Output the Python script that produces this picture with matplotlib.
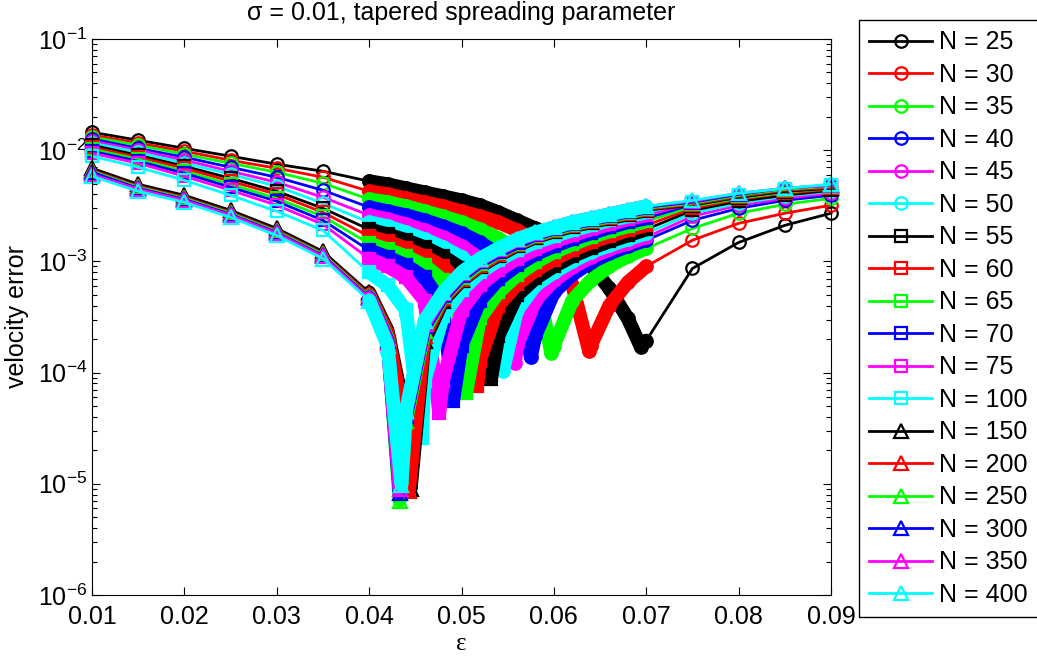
import matplotlib
matplotlib.use('Agg')
import matplotlib.pyplot as plt

plt.rcParams['font.family'] = ['Liberation Sans', 'DejaVu Sans']
plt.rcParams['mathtext.fontset'] = 'custom'
plt.rcParams['mathtext.rm'] = 'Liberation Sans'
plt.rcParams['mathtext.it'] = 'Liberation Sans:italic'
plt.rcParams['mathtext.bf'] = 'Liberation Sans:bold'

# eps grid: coarse part, dense part (0.040..0.070), tail
eps_coarse = [0.010, 0.015, 0.020, 0.025, 0.030, 0.035]
eps_dense = [0.040, 0.042, 0.044, 0.046, 0.048, 0.050, 0.052, 0.054,
             0.056, 0.058, 0.060, 0.062, 0.064, 0.066, 0.068, 0.070]
eps_tail = [0.075, 0.080, 0.085, 0.090]

N_values = [25, 30, 35, 40, 45, 50, 55, 60, 65, 70, 75, 100, 150, 200, 250, 300, 350, 400]

err_n25 = [1.45e-2, 1.23e-2, 1.04e-2, 8.83e-3, 7.48e-3, 6.47e-3,
           5.26e-3, 4.94e-3, 4.54e-3, 4.18e-3, 3.85e-3, 3.54e-3, 3.20e-3, 2.76e-3,
           2.34e-3, 1.98e-3, 1.65e-3, 1.28e-3, 9.20e-4, 5.71e-4, 3.07e-4, 1.94e-4,
           8.64e-4, 1.48e-3, 2.11e-3, 2.71e-3]
err_n30 = [1.37e-2, 1.16e-2, 9.79e-3, 8.12e-3, 6.88e-3, 5.71e-3,
           4.27e-3, 4.01e-3, 3.69e-3, 3.40e-3, 3.13e-3, 2.82e-3, 2.54e-3, 2.25e-3,
           1.90e-3, 1.55e-3, 1.13e-3, 6.08e-4, 1.75e-4, 4.01e-4, 6.47e-4, 9.01e-4,
           1.55e-3, 2.20e-3, 2.71e-3, 3.20e-3]
err_n35 = [1.31e-2, 1.11e-2, 9.20e-3, 7.63e-3, 6.33e-3, 5.04e-3,
           3.62e-3, 3.40e-3, 3.13e-3, 2.82e-3, 2.54e-3, 2.25e-3, 1.94e-3, 1.61e-3,
           1.26e-3, 7.96e-4, 1.75e-4, 4.45e-4, 6.74e-4, 9.01e-4, 1.11e-3, 1.31e-3,
           1.98e-3, 2.71e-3, 3.26e-3, 3.69e-3]
err_n40 = [1.26e-2, 1.04e-2, 8.64e-3, 7.03e-3, 5.71e-3, 4.36e-3,
           3.07e-3, 2.82e-3, 2.60e-3, 2.34e-3, 2.07e-3, 1.79e-3, 1.48e-3, 1.16e-3,
           7.03e-4, 2.15e-4, 5.26e-4, 7.63e-4, 9.79e-4, 1.18e-3, 1.37e-3, 1.55e-3,
           2.34e-3, 3.00e-3, 3.54e-3, 3.93e-3]
err_n45 = [1.21e-2, 1.00e-2, 8.12e-3, 6.47e-3, 5.15e-3, 3.77e-3,
           2.60e-3, 2.39e-3, 2.15e-3, 1.90e-3, 1.65e-3, 1.37e-3, 1.06e-3, 7.03e-4,
           1.75e-4, 4.45e-4, 6.74e-4, 8.83e-4, 1.09e-3, 1.28e-3, 1.45e-3, 1.65e-3,
           2.54e-3, 3.20e-3, 3.69e-3, 4.10e-3]
err_n50 = [1.16e-2, 9.59e-3, 7.63e-3, 6.08e-3, 4.74e-3, 3.33e-3,
           2.25e-3, 2.07e-3, 1.82e-3, 1.58e-3, 1.34e-3, 1.09e-3, 7.96e-4, 3.26e-4,
           3.62e-4, 6.08e-4, 7.96e-4, 1.00e-3, 1.21e-3, 1.39e-3, 1.58e-3, 1.79e-3,
           2.71e-3, 3.33e-3, 3.85e-3, 4.27e-3]
err_n55 = [1.11e-2, 9.01e-3, 7.17e-3, 5.59e-3, 4.27e-3, 3.00e-3,
           1.94e-3, 1.75e-3, 1.55e-3, 1.34e-3, 1.11e-3, 8.64e-4, 4.94e-4, 2.15e-4,
           4.94e-4, 7.03e-4, 9.01e-4, 1.11e-3, 1.31e-3, 1.51e-3, 1.71e-3, 1.94e-3,
           2.88e-3, 3.47e-3, 3.93e-3, 4.36e-3]
err_n60 = [1.06e-2, 8.64e-3, 6.88e-3, 5.26e-3, 4.01e-3, 2.76e-3,
           1.68e-3, 1.51e-3, 1.31e-3, 1.11e-3, 9.01e-4, 6.08e-4, 1.28e-4, 4.01e-4,
           6.20e-4, 8.29e-4, 1.04e-3, 1.26e-3, 1.48e-3, 1.68e-3, 1.90e-3, 2.11e-3,
           3.00e-3, 3.62e-3, 4.10e-3, 4.45e-3]
err_n65 = [1.02e-2, 8.29e-3, 6.47e-3, 4.94e-3, 3.69e-3, 2.54e-3,
           1.45e-3, 1.28e-3, 1.11e-3, 9.20e-4, 6.74e-4, 2.94e-4, 3.07e-4, 5.26e-4,
           7.48e-4, 9.79e-4, 1.21e-3, 1.42e-3, 1.65e-3, 1.86e-3, 2.07e-3, 2.29e-3,
           3.13e-3, 3.69e-3, 4.18e-3, 4.54e-3]
err_n70 = [9.79e-3, 7.96e-3, 6.20e-3, 4.64e-3, 3.47e-3, 2.34e-3,
           1.26e-3, 1.09e-3, 9.20e-4, 7.17e-4, 4.01e-4, 1.75e-4, 4.45e-4, 6.88e-4,
           9.20e-4, 1.16e-3, 1.37e-3, 1.58e-3, 1.79e-3, 2.02e-3, 2.25e-3, 2.44e-3,
           3.26e-3, 3.77e-3, 4.27e-3, 4.64e-3]
err_n75 = [9.39e-3, 7.63e-3, 5.83e-3, 4.36e-3, 3.20e-3, 2.15e-3,
           1.06e-3, 9.01e-4, 7.17e-4, 4.45e-4, 8.47e-5, 3.62e-4, 6.08e-4, 8.29e-4,
           1.06e-3, 1.28e-3, 1.51e-3, 1.71e-3, 1.94e-3, 2.15e-3, 2.39e-3, 2.60e-3,
           3.33e-3, 3.85e-3, 4.36e-3, 4.74e-3]
err_n100 = [8.83e-3, 7.03e-3, 5.37e-3, 3.93e-3, 2.82e-3, 1.90e-3,
            7.96e-4, 6.08e-4, 3.62e-4, 8.47e-5, 3.26e-4, 5.48e-4, 7.96e-4, 1.02e-3,
            1.26e-3, 1.48e-3, 1.68e-3, 1.90e-3, 2.11e-3, 2.34e-3, 2.54e-3, 2.76e-3,
            3.40e-3, 3.93e-3, 4.45e-3, 4.84e-3]
err_n150 = [6.88e-3, 4.94e-3, 3.93e-3, 2.88e-3, 1.98e-3, 1.23e-3,
            5.26e-4, 2.39e-4, 3.69e-5, 1.94e-4, 4.45e-4, 6.74e-4, 9.01e-4, 1.13e-3,
            1.39e-3, 1.65e-3, 1.86e-3, 2.07e-3, 2.25e-3, 2.44e-3, 2.65e-3, 2.88e-3,
            3.20e-3, 3.77e-3, 4.27e-3, 4.54e-3]
err_n200 = [6.60e-3, 4.74e-3, 3.77e-3, 2.76e-3, 1.90e-3, 1.18e-3,
            5.04e-4, 2.25e-4, 3.00e-5, 2.15e-4, 4.64e-4, 6.88e-4, 9.20e-4, 1.16e-3,
            1.42e-3, 1.68e-3, 1.90e-3, 2.11e-3, 2.29e-3, 2.49e-3, 2.71e-3, 2.94e-3,
            3.26e-3, 3.85e-3, 4.36e-3, 4.64e-3]
err_n250 = [6.47e-3, 4.64e-3, 3.69e-3, 2.71e-3, 1.86e-3, 1.16e-3,
            4.84e-4, 2.02e-4, 3.69e-5, 2.39e-4, 4.84e-4, 7.17e-4, 9.59e-4, 1.21e-3,
            1.45e-3, 1.71e-3, 1.94e-3, 2.15e-3, 2.34e-3, 2.54e-3, 2.76e-3, 3.00e-3,
            3.33e-3, 3.93e-3, 4.45e-3, 4.74e-3]
err_n300 = [6.33e-3, 4.54e-3, 3.62e-3, 2.65e-3, 1.82e-3, 1.13e-3,
            4.74e-4, 1.94e-4, 4.10e-5, 2.60e-4, 4.94e-4, 7.48e-4, 1.00e-3, 1.23e-3,
            1.48e-3, 1.75e-3, 1.98e-3, 2.20e-3, 2.39e-3, 2.60e-3, 2.82e-3, 3.07e-3,
            3.40e-3, 4.01e-3, 4.54e-3, 4.84e-3]
err_n350 = [6.08e-3, 4.45e-3, 3.54e-3, 2.60e-3, 1.79e-3, 1.11e-3,
            4.64e-4, 1.86e-4, 4.54e-5, 2.76e-4, 5.15e-4, 7.79e-4, 1.04e-3, 1.28e-3,
            1.55e-3, 1.79e-3, 2.02e-3, 2.25e-3, 2.44e-3, 2.65e-3, 2.88e-3, 3.13e-3,
            3.47e-3, 4.10e-3, 4.54e-3, 4.84e-3]
err_n400 = [5.83e-3, 4.27e-3, 3.40e-3, 2.49e-3, 1.71e-3, 1.06e-3,
            4.45e-4, 1.75e-4, 4.54e-5, 2.94e-4, 5.26e-4, 7.96e-4, 1.06e-3, 1.31e-3,
            1.58e-3, 1.82e-3, 2.02e-3, 2.25e-3, 2.44e-3, 2.65e-3, 2.88e-3, 3.13e-3,
            3.54e-3, 4.10e-3, 4.54e-3, 4.94e-3]

# location / depth of each curve's dip
min_eps = [0.0694, 0.0638, 0.0597, 0.0575, 0.0558, 0.0545, 0.0532, 0.0517, 0.0505,
           0.0491, 0.0476, 0.0457, 0.0445, 0.0443, 0.0433, 0.0433, 0.0433, 0.0435]
min_err = [1.71e-4, 1.58e-4, 1.51e-4, 1.37e-4, 1.23e-4, 1.04e-4, 8.83e-5, 7.63e-5, 6.60e-5,
           5.59e-5, 4.36e-5, 2.60e-5, 9.01e-6, 8.64e-6, 7.03e-6, 8.29e-6, 9.01e-6, 9.79e-6]

x_ticks = [0.01, 0.02, 0.03, 0.04, 0.05, 0.06, 0.07, 0.08, 0.09]
x_tick_labels = ['0.01', '0.02', '0.03', '0.04', '0.05', '0.06', '0.07', '0.08', '0.09']

all_err = [err_n25, err_n30, err_n35, err_n40, err_n45, err_n50, err_n55, err_n60, err_n65,
           err_n70, err_n75, err_n100, err_n150, err_n200, err_n250, err_n300, err_n350, err_n400]
colors = ['#000000', '#ff0000', '#00ff00', '#0000ff', '#ff00ff', '#00ffff'] * 3
markers = ['o'] * 6 + ['s'] * 6 + ['^'] * 6
msizes = {'o': 9, 's': 8, '^': 10}

eps_all = eps_coarse + eps_dense + eps_tail
FS = 18

fig = plt.figure(figsize=(10.37, 6.58), dpi=100)
ax = fig.add_axes([92 / 1037, 63 / 658, 739 / 1037, 556 / 658])

handles = []
for i, n in enumerate(N_values):
    pts = sorted(zip(eps_all + [min_eps[i]], all_err[i] + [min_err[i]]))
    x = [p[0] for p in pts]
    y = [p[1] for p in pts]
    dx = [p[0] for p in pts if eps_dense[0] <= p[0] <= eps_dense[-1]]
    dy = [p[1] for p in pts if eps_dense[0] <= p[0] <= eps_dense[-1]]
    # densely packed markers look like a thick band
    ax.plot(dx, dy, color=colors[i], lw=10, solid_capstyle='round',
            solid_joinstyle='round', clip_on=False)
    h, = ax.plot(x, y, color=colors[i], lw=2, marker=markers[i], ms=msizes[markers[i]],
                 mfc='none', mew=1.6, label=f'N = {n}', clip_on=False)
    handles.append(h)

ax.set_yscale('log')
ax.set_xlim(0.01, 0.09)
ax.set_ylim(1e-6, 1e-1)
ax.set_xticks(x_ticks)
ax.set_xticklabels(x_tick_labels)
ax.tick_params(which='both', direction='in', top=True, right=True, labelsize=FS)
ax.tick_params(which='major', length=6, width=0.8)
ax.tick_params(which='minor', length=3.5, width=0.8)
ax.tick_params(axis='x', pad=7)
for s in ax.spines.values():
    s.set_linewidth(0.8)

ax.set_xlabel('ε', fontsize=FS, family=['Liberation Serif', 'DejaVu Serif'], labelpad=3)
ax.set_ylabel('velocity error', fontsize=FS, labelpad=6)
ax.set_title('σ = 0.01, tapered spreading parameter', fontsize=FS, pad=14)

leg = fig.legend(handles=handles, loc='upper left', bbox_to_anchor=(859 / 1037, 1 - 20 / 658),
                 fontsize=FS, frameon=True, fancybox=False, edgecolor='black', framealpha=1,
                 borderpad=0.41, labelspacing=0.34, handlelength=2.5, handletextpad=0.28,
                 numpoints=1, borderaxespad=0)
leg.get_frame().set_linewidth(1.0)

fig.savefig('out.png', dpi=100)
